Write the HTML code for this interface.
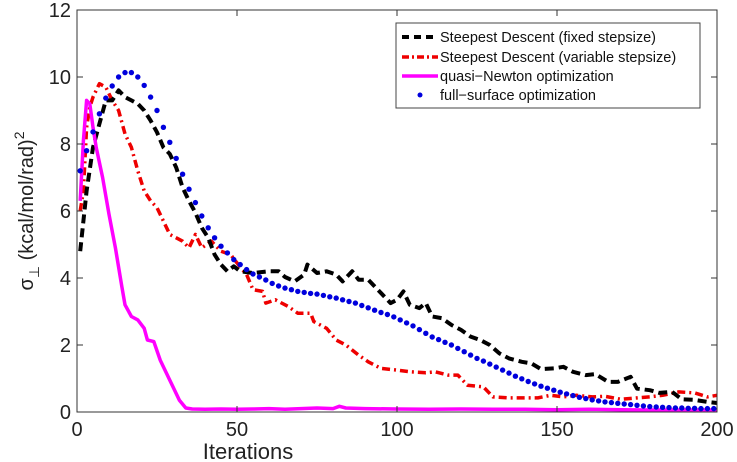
<!DOCTYPE html>
<html><head><meta charset="utf-8"><style>
body{margin:0;background:#fff}
svg{display:block;font-family:"Liberation Sans",sans-serif}
</style></head><body>
<svg id="chart" width="737" height="462" viewBox="0 0 737 462">
<rect x="0" y="0" width="737" height="462" fill="#fff"/>
<g id="marks"></g>
<g id="axes"></g>
<text x="248" y="459" font-size="22" text-anchor="middle" fill="#222">Iterations</text>
<text transform="translate(33,211) rotate(-90)" font-size="20" text-anchor="middle" fill="#222">σ<tspan font-size="14" dy="6">⊥</tspan><tspan dy="-6"> (kcal/mol/rad)</tspan><tspan font-size="14" dy="-9">2</tspan></text>
<g>
<rect x="396" y="23" width="304" height="85" fill="#fff" stroke="#444" stroke-width="1"/>
<line x1="402" y1="37" x2="438" y2="37" stroke="#000" stroke-width="4" stroke-dasharray="7,5"/>
<text x="440" y="42" font-size="14.5" fill="#111">Steepest Descent (fixed stepsize)</text>
<line x1="402" y1="57" x2="438" y2="57" stroke="#e00" stroke-width="3.5" stroke-dasharray="7,3,2,3"/>
<text x="440" y="62" font-size="14.5" fill="#111">Steepest Descent (variable stepsize)</text>
<line x1="402" y1="76" x2="438" y2="76" stroke="#f0f" stroke-width="3.5"/>
<text x="440" y="81" font-size="14.5" fill="#111">quasi−Newton optimization</text>
<circle cx="420" cy="95" r="2.5" fill="#00d"/>
<text x="440" y="100" font-size="14.5" fill="#111">full−surface optimization</text>
</g>
</svg>
<script>
const xTicks=[0,50,100,150,200];
const yTicks=[0,2,4,6,8,10,12];
const fixedIter=[1,3,5,7,9,11,13,15,17,19,21,23,25,27,29,31,33,35,37,39,41,43,45,47,49,51,55,60,63,65,68,71,72,75,78,81,83,86,88,91,94,98,100,102,104,107,109,111,114,117,120,123,126,129,132,135,139,142,145,149,152,155,159,162,166,169,173,175,179,182,186,189,193,197,200];
const fixedVal=[4.8,6.6,7.9,8.6,9.3,9.3,9.6,9.4,9.3,9.2,9.0,8.7,8.35,7.9,7.7,7.3,6.7,6.3,5.95,5.5,5.2,4.7,4.4,4.2,4.35,4.2,4.15,4.2,4.2,4.03,3.9,4.1,4.4,4.15,4.2,4.1,3.9,4.2,3.95,3.95,3.65,3.25,3.35,3.6,3.2,3.1,3.25,2.85,2.8,2.6,2.45,2.25,2.15,2.0,1.75,1.6,1.5,1.45,1.28,1.3,1.35,1.2,1.1,1.13,0.9,0.9,1.05,0.7,0.65,0.57,0.6,0.38,0.36,0.3,0.27];
const varIter=[1,2,3,4,5,7,9,11,13,15,17,19,21,23,25,27,29,31,33,35,37,39,42,45,48,50,53,55,58,59,62,66,69,73,74,78,81,84,88,91,95,100,104,109,112,116,119,122,127,130,135,139,144,148,152,156,161,165,170,175,179,183,188,193,197,200];
const varVal=[6.0,6.6,8.5,9.1,9.4,9.8,9.7,9.3,9.0,8.3,7.9,7.2,6.6,6.3,6.1,5.7,5.3,5.2,5.1,4.9,5.3,4.9,5.1,4.8,4.7,4.45,4.1,3.65,3.6,3.25,3.35,3.15,2.95,2.95,2.7,2.5,2.15,2.0,1.7,1.5,1.3,1.25,1.2,1.17,1.2,1.1,1.1,0.8,0.75,0.45,0.42,0.42,0.42,0.5,0.45,0.5,0.45,0.47,0.38,0.42,0.45,0.5,0.6,0.57,0.45,0.5];
const qnIter=[1,2,3,4,5,6,8,10,12,14,15,17,19,21,22,24,26,28,30,32,34,36,40,45,50,55,60,65,70,75,80,82,84,90,100,110,120,130,140,150,160,170,180,190,200];
const qnVal=[6.3,8.1,9.3,9.2,8.5,7.9,7.0,5.9,4.9,3.75,3.2,2.85,2.75,2.5,2.15,2.1,1.55,1.15,0.75,0.35,0.12,0.09,0.08,0.09,0.08,0.09,0.1,0.08,0.1,0.12,0.1,0.17,0.12,0.1,0.09,0.08,0.09,0.08,0.08,0.07,0.08,0.07,0.06,0.06,0.06];
const fullIter=[];for(let i=1;i<200;i+=2)fullIter.push(i);
const fullVal=[7.2,7.8,8.36,8.9,9.37,9.73,10.0,10.13,10.13,10.0,9.75,9.4,9.0,8.5,8.05,7.57,7.1,6.65,6.25,5.85,5.5,5.2,4.95,4.75,4.55,4.4,4.25,4.12,4.03,3.94,3.84,3.76,3.70,3.65,3.6,3.57,3.54,3.52,3.48,3.44,3.4,3.35,3.30,3.25,3.18,3.11,3.04,2.97,2.91,2.84,2.75,2.66,2.57,2.46,2.35,2.24,2.16,2.08,2.0,1.9,1.8,1.70,1.6,1.52,1.43,1.34,1.25,1.16,1.07,0.99,0.91,0.84,0.77,0.71,0.65,0.59,0.54,0.49,0.44,0.40,0.36,0.33,0.30,0.28,0.26,0.24,0.22,0.2,0.18,0.16,0.15,0.14,0.13,0.12,0.12,0.11,0.11,0.10,0.10,0.10];

const L=77,R=717,T=10,B=412;
const sx=v=>L+(v-0)/(200-0)*(R-L);
const sy=v=>B-(v-0)/(12-0)*(B-T);
const NS='http://www.w3.org/2000/svg';
const marks=document.getElementById('marks'),axes=document.getElementById('axes');
function mk(tag,attrs,parent){const e=document.createElementNS(NS,tag);for(const k in attrs)e.setAttribute(k,attrs[k]);parent.appendChild(e);return e;}
function line(xs,ys,stroke,w,dash,name){
  const d=xs.map((x,i)=>(i?'L':'M')+sx(x).toFixed(1)+','+sy(ys[i]).toFixed(1)).join('');
  const p=mk('path',{d:d,fill:'none',stroke:stroke,'stroke-width':w,'stroke-linejoin':'round'},marks);
  if(dash)p.setAttribute('stroke-dasharray',dash);
  
  
}
line(varIter,varVal,'#e00',3.5,'8,4,2,4','series-variable-stepsize');
line(fixedIter,fixedVal,'#000',4,'9,5','series-fixed-stepsize');
line(qnIter,qnVal,'#f0f',3.5,null,'series-quasi-newton');
fullIter.forEach((x,i)=>{
  const c=mk('circle',{cx:sx(x).toFixed(1),cy:sy(fullVal[i]).toFixed(1),r:2.7,fill:'#00d'},marks);
  
  
});
const frame=mk('rect',{x:L,y:T,width:R-L,height:B-T,fill:'none',stroke:'#333','stroke-width':1},axes);


xTicks.forEach(t=>{
  const x=sx(t);
  const a=mk('path',{d:`M${x},${B}v-6M${x},${T}v6`,stroke:'#333','stroke-width':1},axes);
  
  
  const tx=mk('text',{x:x,y:B+24,'font-size':20,'text-anchor':'middle',fill:'#222'},axes);
  tx.textContent=t;
  
  
});
yTicks.forEach(t=>{
  const y=sy(t);
  const a=mk('path',{d:`M${L},${y}h6M${R},${y}h-6`,stroke:'#333','stroke-width':1},axes);
  
  
  const tx=mk('text',{x:L-6,y:y+7,'font-size':20,'text-anchor':'end',fill:'#222'},axes);
  tx.textContent=t;
  
  
});
</script>
</body></html>
